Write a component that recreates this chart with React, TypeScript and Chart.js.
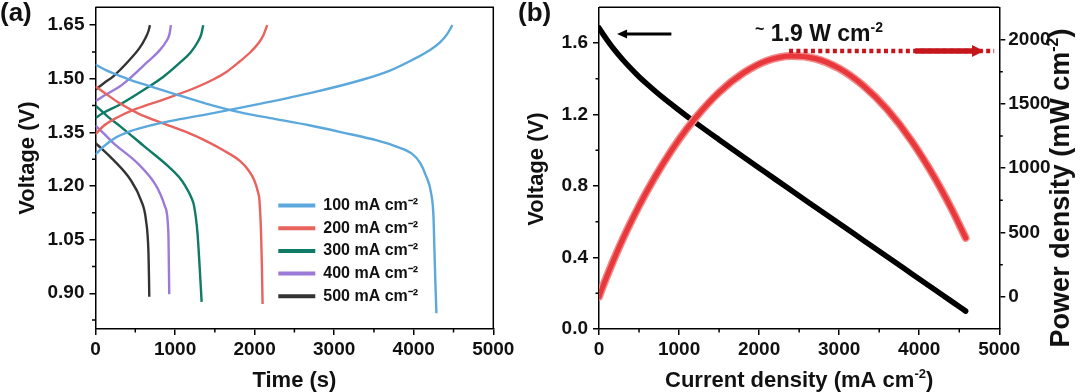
import React, { useEffect, useRef } from 'react';
import { Chart, registerables } from 'chart.js';

Chart.register(...registerables);

const FONT = '"Liberation Sans", Arial, Helvetica, sans-serif';
const INK = '#111111';

// ---------------- Panel (a): charge / discharge curves ----------------
const timeTicks = [0, 1000, 2000, 3000, 4000, 5000];
const timeMinorTicks = [500, 1500, 2500, 3500, 4500];
const voltageTicksA = [0.9, 1.05, 1.2, 1.35, 1.5, 1.65];
const voltageMinorTicksA = [0.825, 0.975, 1.125, 1.275, 1.425, 1.575];
const currentLabels = ['100 mA cm⁻²', '200 mA cm⁻²', '300 mA cm⁻²', '400 mA cm⁻²', '500 mA cm⁻²'];
const currentColors = ['#5AA8DC', '#E8625E', '#0F7A66', '#9B7AD8', '#333333'];

// [time (s), voltage (V)]
const charge100 = [[0, 1.288], [100, 1.31], [250, 1.335], [433, 1.353], [700, 1.37], [1061, 1.387], [1480, 1.404], [2000, 1.427], [2736, 1.462], [3364, 1.498], [3700, 1.523], [3992, 1.554], [4200, 1.58], [4327, 1.601], [4420, 1.625], [4486, 1.65]];
const discharge100 = [[0, 1.54], [150, 1.522], [400, 1.5], [700, 1.478], [958, 1.46], [1400, 1.43], [1821, 1.406], [2250, 1.388], [2685, 1.37], [3100, 1.35], [3548, 1.327], [3800, 1.309], [3980, 1.29], [4080, 1.265], [4152, 1.23], [4218, 1.18], [4248, 1.115], [4260, 1.021], [4272, 0.93], [4285, 0.844]];
const charge200 = [[0, 1.345], [100, 1.368], [266, 1.391], [500, 1.415], [852, 1.442], [1200, 1.47], [1480, 1.498], [1650, 1.52], [1815, 1.549], [1950, 1.575], [2050, 1.6], [2110, 1.622], [2158, 1.65]];
const discharge200 = [[0, 1.479], [150, 1.455], [300, 1.432], [527, 1.404], [850, 1.375], [1174, 1.348], [1400, 1.325], [1606, 1.3], [1822, 1.269], [1920, 1.245], [1994, 1.217], [2040, 1.185], [2060, 1.161], [2081, 1.068], [2092, 0.97], [2100, 0.87]];
const charge300 = [[0, 1.39], [100, 1.405], [308, 1.428], [643, 1.474], [850, 1.505], [1061, 1.545], [1200, 1.575], [1290, 1.605], [1330, 1.625], [1354, 1.65]];
const discharge300 = [[0, 1.425], [150, 1.395], [311, 1.367], [613, 1.311], [916, 1.255], [1050, 1.225], [1132, 1.199], [1200, 1.17], [1240, 1.143], [1282, 1.068], [1310, 0.97], [1334, 0.876]];
const charge400 = [[0, 1.437], [100, 1.452], [308, 1.479], [450, 1.505], [643, 1.545], [800, 1.578], [890, 1.605], [930, 1.625], [948, 1.65]];
const discharge400 = [[0, 1.369], [100, 1.348], [225, 1.32], [527, 1.264], [742, 1.208], [820, 1.175], [873, 1.143], [916, 1.068], [922, 0.98], [927, 0.897]];
const charge500 = [[0, 1.47], [100, 1.487], [224, 1.507], [433, 1.554], [550, 1.585], [630, 1.615], [665, 1.633], [685, 1.65]];
const discharge500 = [[0, 1.32], [100, 1.3], [225, 1.273], [441, 1.217], [570, 1.161], [634, 1.105], [666, 1.012], [672, 0.95], [676, 0.89]];

const chargeCurves = [charge100, charge200, charge300, charge400, charge500];
const dischargeCurves = [discharge100, discharge200, discharge300, discharge400, discharge500];

// ---------------- Panel (b): polarization & power density ----------------
const currentTicks = [0, 1000, 2000, 3000, 4000, 5000];
const currentMinorTicks = [500, 1500, 2500, 3500, 4500];
const voltageTicksB = [0, 0.4, 0.8, 1.2, 1.6];
const voltageMinorTicksB = [0.2, 0.6, 1.0, 1.4];
const powerTicks = [0, 500, 1000, 1500, 2000];
const powerMinorTicks = [250, 750, 1250, 1750];

const currentDensity = [0, 25, 50, 100, 150, 200, 300, 400, 500, 600, 800, 1000, 1200, 1500, 1800, 2100, 2400, 2700, 3000, 3300, 3600, 3900, 4200, 4400, 4580];
const cellVoltage = [1.685, 1.667, 1.65, 1.618, 1.587, 1.558, 1.505, 1.457, 1.412, 1.371, 1.294, 1.224, 1.156, 1.059, 0.964, 0.87, 0.776, 0.683, 0.59, 0.497, 0.404, 0.311, 0.218, 0.156, 0.1];
const powerDensity = [0, 42, 83, 162, 238, 312, 452, 583, 706, 823, 1035, 1224, 1387, 1589, 1738, 1835, 1872, 1852, 1775, 1642, 1456, 1215, 918, 688, 458];

// annotation anchors (data units)
const voltageArrow = { from: 904, tip: 226, level: 1.65 };
const peakLine = { from: 2374, to: 4936, level: 1910 };
const powerArrow = { from: 3950, headStart: 4660, tip: 4807, level: 1910 };
const peakLabelAt = { x: 1950, y: 1990 };

// ---------------- helpers ----------------
type Run = { t: string; s: number; up?: number };

function drawRich(ctx: any, runs: Run[], x: number, y: number, align: 'left' | 'center', rotate = false, color = INK) {
  ctx.save();
  ctx.translate(x, y);
  if (rotate) ctx.rotate(-Math.PI / 2);
  ctx.fillStyle = color;
  ctx.textBaseline = 'alphabetic';
  ctx.textAlign = 'left';
  let w = 0;
  for (const r of runs) {
    ctx.font = `bold ${r.s}px ${FONT}`;
    w += ctx.measureText(r.t).width;
  }
  let cx = align === 'center' ? -w / 2 : 0;
  for (const r of runs) {
    ctx.font = `bold ${r.s}px ${FONT}`;
    ctx.fillText(r.t, cx, -(r.up || 0));
    cx += ctx.measureText(r.t).width;
  }
  ctx.restore();
}

const setTicks = (vals: number[]) => (s: any) => {
  s.ticks = vals.map((v) => ({ value: v }));
};
const fixSize = (prop: 'width' | 'height', size: number) => (s: any) => {
  s[prop] = size;
  s.paddingLeft = 0;
  s.paddingRight = 0;
  s.paddingTop = 0;
  s.paddingBottom = 0;
};

const tickFont = { family: FONT, size: 19, weight: 'bold' as const };
const gridOpts = { drawOnChartArea: false, drawTicks: true, tickLength: 6, color: '#000', lineWidth: 1.5 };
const borderOpts = { display: true, color: '#000', width: 1.5 };

function frameAndMinor(minor: Record<string, number[]>, rightFrame: boolean) {
  return {
    id: 'frameAndMinor',
    afterDraw(chart: any) {
      const { ctx, chartArea: ca } = chart;
      ctx.save();
      ctx.strokeStyle = '#000';
      ctx.lineWidth = 1.5;
      ctx.beginPath();
      ctx.moveTo(ca.left, ca.top);
      ctx.lineTo(ca.right, ca.top);
      if (rightFrame) ctx.lineTo(ca.right, ca.bottom);
      ctx.stroke();
      ctx.beginPath();
      for (const id of Object.keys(minor)) {
        const s = chart.scales[id];
        for (const v of minor[id]) {
          const p = s.getPixelForValue(v);
          if (s.isHorizontal()) {
            ctx.moveTo(p, ca.bottom);
            ctx.lineTo(p, ca.bottom + 3.5);
          } else if (s.position === 'left') {
            ctx.moveTo(ca.left, p);
            ctx.lineTo(ca.left - 3.5, p);
          } else {
            ctx.moveTo(ca.right, p);
            ctx.lineTo(ca.right + 3.5, p);
          }
        }
      }
      ctx.stroke();
      ctx.restore();
    },
  };
}

function textLayer(id: string, draw: (ctx: any, chart: any) => void) {
  return {
    id,
    afterDraw(chart: any) {
      draw(chart.ctx, chart);
    },
  };
}

const legendMover = (left: number, top: number) => ({
  id: 'legendMover',
  afterLayout(chart: any) {
    const lg = chart.legend;
    if (!lg) return;
    const w = lg.width;
    const h = lg.height;
    lg.left = left;
    lg.top = top;
    lg.right = left + w;
    lg.bottom = top + h;
  },
});

function configA(): any {
  const datasets: any[] = [];
  chargeCurves.forEach((curve, i) => {
    const common = {
      borderColor: currentColors[i],
      backgroundColor: currentColors[i],
      borderWidth: 2.4,
      pointRadius: 0,
      cubicInterpolationMode: 'monotone',
      fill: false,
    };
    datasets.push({ ...common, label: currentLabels[i], data: curve.map(([x, y]) => ({ x, y })) });
    datasets.push({ ...common, label: '', data: dischargeCurves[i].map(([x, y]) => ({ x, y })) });
  });
  return {
    type: 'line',
    data: { datasets },
    options: {
      responsive: false,
      animation: false,
      events: [],
      layout: { padding: { left: 0, top: 7.3, right: 46.7, bottom: 0 } },
      scales: {
        x: {
          type: 'linear',
          min: 0,
          max: 5000,
          afterBuildTicks: setTicks(timeTicks),
          afterFit: fixSize('height', 63),
          grid: gridOpts,
          border: borderOpts,
          ticks: { font: tickFont, color: INK, padding: 3, maxRotation: 0, autoSkip: false, callback: (v: any) => String(v) },
        },
        y: {
          type: 'linear',
          min: 0.8,
          max: 1.7,
          afterBuildTicks: setTicks(voltageTicksA),
          afterFit: fixSize('width', 95.5),
          grid: gridOpts,
          border: borderOpts,
          ticks: { font: tickFont, color: INK, padding: 5, autoSkip: false, callback: (v: any) => Number(v).toFixed(2) },
        },
      },
      plugins: {
        tooltip: { enabled: false },
        legend: {
          display: true,
          position: 'chartArea',
          align: 'start',
          labels: {
            usePointStyle: true,
            pointStyle: 'line',
            pointStyleWidth: 37,
            padding: 6.7,
            color: INK,
            font: { family: FONT, size: 16, weight: 'bold' },
            filter: (item: any) => item.text !== '',
            generateLabels: (chart: any) =>
              (Chart.defaults as any).plugins.legend.labels
                .generateLabels(chart)
                .map((l: any) => ({ ...l, lineWidth: 4, pointStyle: 'line' })),
          },
        },
      },
    },
    plugins: [
      legendMover(271.6, 190.8),
      frameAndMinor({ x: timeMinorTicks, y: voltageMinorTicksA }, true),
      textLayer('titlesA', (ctx, chart) => {
        const ca = chart.chartArea;
        drawRich(ctx, [{ t: '(a)', s: 26 }], 0, 21, 'left');
        drawRich(ctx, [{ t: 'Voltage (V)', s: 22 }], ca.left - 68.5 + 6.6, (ca.top + ca.bottom) / 2 - 10, 'center', true);
        drawRich(ctx, [{ t: 'Time (s)', s: 22 }], (ca.left + ca.right) / 2, ca.bottom + 51 + 6.6, 'center');
      }),
    ],
  };
}

function configB(): any {
  const voltPts = currentDensity.map((j, i) => ({ x: j, y: cellVoltage[i] }));
  const powerPts = currentDensity.map((j, i) => ({ x: j, y: powerDensity[i] }));
  const line = { pointRadius: 0, cubicInterpolationMode: 'monotone', fill: false, borderCapStyle: 'round', borderJoinStyle: 'round' };
  return {
    type: 'line',
    data: {
      datasets: [
        { ...line, label: 'Power density', data: powerPts, yAxisID: 'y2', borderColor: '#E8383C', borderWidth: 5, order: 0 },
        { ...line, label: 'Power density edge', data: powerPts, yAxisID: 'y2', borderColor: '#F28A8A', borderWidth: 8, order: 1 },
        { ...line, label: 'Voltage', data: voltPts, yAxisID: 'y', borderColor: '#000000', borderWidth: 5.5, order: 2 },
      ],
    },
    options: {
      responsive: false,
      animation: false,
      events: [],
      layout: { padding: { left: 0, top: 7.3, right: 20.7, bottom: 0 } },
      scales: {
        x: {
          type: 'linear',
          min: 0,
          max: 5000,
          afterBuildTicks: setTicks(currentTicks),
          afterFit: fixSize('height', 63),
          grid: gridOpts,
          border: borderOpts,
          ticks: { font: tickFont, color: INK, padding: 3, maxRotation: 0, autoSkip: false, callback: (v: any) => String(v) },
        },
        y: {
          type: 'linear',
          position: 'left',
          min: 0,
          max: 1.8,
          afterBuildTicks: setTicks(voltageTicksB),
          afterFit: fixSize('width', 99),
          grid: gridOpts,
          border: borderOpts,
          ticks: { font: tickFont, color: INK, padding: 5, autoSkip: false, callback: (v: any) => Number(v).toFixed(1) },
        },
        y2: {
          type: 'linear',
          position: 'right',
          min: -250,
          max: 2250,
          afterBuildTicks: setTicks(powerTicks),
          afterFit: fixSize('width', 60),
          grid: gridOpts,
          border: borderOpts,
          ticks: { font: tickFont, color: INK, padding: 3, autoSkip: false, callback: (v: any) => String(v) },
        },
      },
      plugins: { tooltip: { enabled: false }, legend: { display: false } },
    },
    plugins: [
      frameAndMinor({ x: currentMinorTicks, y: voltageMinorTicksB, y2: powerMinorTicks }, false),
      {
        id: 'annotationsB',
        afterDatasetsDraw(chart: any) {
          const { ctx, scales } = chart;
          const x = scales.x;
          const yv = scales.y;
          const yp = scales.y2;
          ctx.save();
          // black arrow -> left axis
          const ay = yv.getPixelForValue(voltageArrow.level);
          const ax0 = x.getPixelForValue(voltageArrow.from);
          const ax1 = x.getPixelForValue(voltageArrow.tip);
          ctx.strokeStyle = '#000';
          ctx.fillStyle = '#000';
          ctx.lineWidth = 3;
          ctx.beginPath();
          ctx.moveTo(ax0, ay);
          ctx.lineTo(ax1 + 8, ay);
          ctx.stroke();
          ctx.beginPath();
          ctx.moveTo(ax1, ay);
          ctx.lineTo(ax1 + 10, ay - 4.5);
          ctx.lineTo(ax1 + 10, ay + 4.5);
          ctx.closePath();
          ctx.fill();
          // red dotted peak line
          const red = '#C5161C';
          const ry = yp.getPixelForValue(peakLine.level);
          ctx.strokeStyle = red;
          ctx.fillStyle = red;
          ctx.lineWidth = 4.5;
          ctx.setLineDash([4, 3.3]);
          ctx.beginPath();
          ctx.moveTo(x.getPixelForValue(peakLine.from), ry);
          ctx.lineTo(x.getPixelForValue(peakLine.to), ry);
          ctx.stroke();
          ctx.setLineDash([]);
          // red arrow -> right axis
          const py = yp.getPixelForValue(powerArrow.level);
          const p0 = x.getPixelForValue(powerArrow.from);
          const ph = x.getPixelForValue(powerArrow.headStart);
          const pt = x.getPixelForValue(powerArrow.tip);
          ctx.lineWidth = 5.5;
          ctx.beginPath();
          ctx.moveTo(p0, py);
          ctx.lineTo(ph + 1, py);
          ctx.stroke();
          ctx.beginPath();
          ctx.moveTo(pt, py);
          ctx.lineTo(ph, py - 6);
          ctx.lineTo(ph, py + 6);
          ctx.closePath();
          ctx.fill();
          // peak label
          const lx = x.getPixelForValue(peakLabelAt.x);
          const ly = yp.getPixelForValue(peakLabelAt.y);
          drawRich(ctx, [{ t: '~', s: 16, up: 7 }, { t: ' 1.9 W cm', s: 23 }, { t: '-2', s: 14, up: 9 }], lx, ly, 'left');
          ctx.restore();
        },
      },
      textLayer('titlesB', (ctx, chart) => {
        const ca = chart.chartArea;
        drawRich(ctx, [{ t: '(b)', s: 26 }], 18, 21, 'left');
        drawRich(ctx, [{ t: 'Voltage (V)', s: 22 }], ca.left - 62.5 + 6.6, (ca.top + ca.bottom) / 2 + 1, 'center', true);
        drawRich(
          ctx,
          [{ t: 'Current density (mA cm', s: 22 }, { t: '-2', s: 13, up: 9 }, { t: ')', s: 22 }],
          (ca.left + ca.right) / 2,
          ca.bottom + 51 + 6.6,
          'center'
        );
        drawRich(
          ctx,
          [{ t: 'Power density (mW cm', s: 27 }, { t: '-2', s: 16, up: 11 }, { t: ')', s: 27 }],
          ca.right + 62 + 8,
          188,
          'center',
          true
        );
      }),
    ],
  };
}

export default function App() {
  const refA = useRef<HTMLCanvasElement>(null);
  const refB = useRef<HTMLCanvasElement>(null);
  useEffect(() => {
    document.body.style.margin = '0';
    document.body.style.background = '#ffffff';
    const a = new Chart(refA.current as HTMLCanvasElement, configA());
    const b = new Chart(refB.current as HTMLCanvasElement, configB());
    return () => {
      a.destroy();
      b.destroy();
    };
  }, []);
  return (
    <div style={{ position: 'relative', width: 1080, height: 392, background: '#fff', overflow: 'hidden' }}>
      <canvas ref={refA} width={540} height={392} style={{ position: 'absolute', left: 0, top: 0, width: 540, height: 392 }} />
      <canvas ref={refB} width={580} height={392} style={{ position: 'absolute', left: 500, top: 0, width: 580, height: 392 }} />
    </div>
  );
}
